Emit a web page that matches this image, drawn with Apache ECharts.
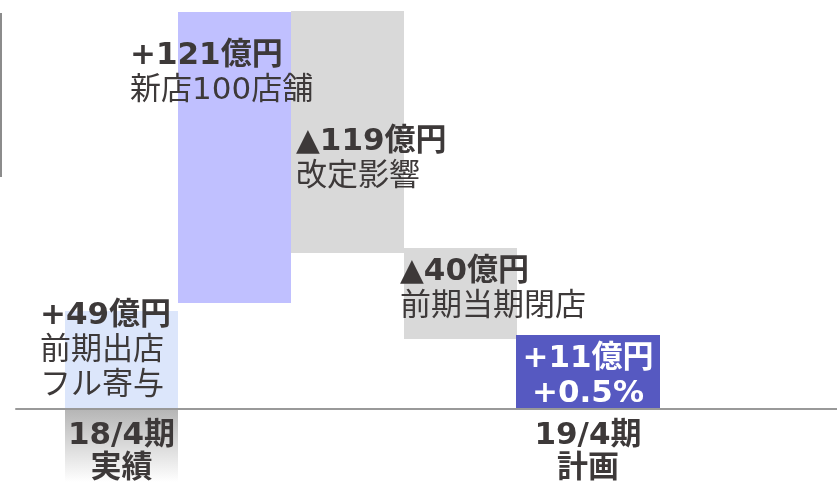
<!DOCTYPE html>
<html>
<head>
<meta charset="utf-8">
<script src="https://cdn.jsdelivr.net/npm/echarts@6/dist/echarts.min.js"></script>
<style>
  html, body { margin: 0; padding: 0; background: #fff; }
  #main { width: 837px; height: 482px; }
</style>
</head>
<body>
<div id="main"></div>
<script>
// 売上増減の要因（図上の目盛り、基準線 = 0）
var categories = ['18/4期\n実績', '新店', '改定', '閉店', '19/4期\n計画'];
var barLow = [0, 53, 78, 35];
var barHigh = [49, 198.5, 199, 80.5];
var prevTotal = [-36.5];      // 18/4期実績（下は切れている）
var planDiff = [37];          // 19/4期計画の箱
var valueLabels = ['+49億円', '+121億円', '▲119億円', '▲40億円'];
var noteLabels = [['前期出店', 'フル寄与'], ['新店100店舗'], ['改定影響'], ['前期当期閉店']];
var planLabels = ['+11億円', '+0.5%'];

var yMin = 0, yMax = 204.5;
var font = "'DejaVu Sans', 'Noto Sans CJK JP', sans-serif";
var textColor = '#3d3939';
var barColors = ['#dce6fb', '#c0c0ff', '#d9d9d9', '#d9d9d9'];
var labelPos = [[-25, -13], [-48, 26], [5, 113], [-4, 6]];

var chart = echarts.init(document.getElementById('main'));

function pad(arr, n, at) {
  var out = [];
  for (var i = 0; i < n; i++) out.push('-');
  for (var j = 0; j < arr.length; j++) out[at + j] = arr[j];
  return out;
}

var baseData = pad(barLow, 5, 0);
var deltaData = pad(barHigh.map(function (h, i) {
  var txt = '{b|' + valueLabels[i] + '}';
  noteLabels[i].forEach(function (s) { txt += '\n{r|' + s + '}'; });
  return {
    value: h - barLow[i],
    itemStyle: { color: barColors[i] },
    label: {
      show: true,
      position: labelPos[i],
      align: 'left',
      verticalAlign: 'top',
      formatter: txt
    }
  };
}), 5, 0);

var hiddenY = function (idx) {
  return { type: 'value', gridIndex: idx, min: yMin, max: yMax, show: false };
};

var catLabel = {
  color: textColor,
  fontFamily: font,
  fontSize: 31,
  fontWeight: 'bold',
  lineHeight: 33,
  margin: 10
};

var noLine = { show: false, onZero: false };
var gridBase = { top: 0, bottom: 73, outerBoundsMode: 'none', containLabel: false };

var option = {
  animation: false,
  grid: [
    Object.assign({ left: 65, width: 565 }, gridBase),
    Object.assign({ left: 79.5, width: 565 }, gridBase),
    Object.assign({ left: 16, right: 0 }, gridBase)
  ],
  xAxis: [
    {
      type: 'category', gridIndex: 0, data: categories, z: 10,
      axisLine: noLine, axisTick: { show: false }, splitLine: { show: false },
      axisLabel: Object.assign({ interval: function (i) { return i === 0; } }, catLabel)
    },
    {
      type: 'category', gridIndex: 1, data: categories, z: 10,
      axisLine: noLine, axisTick: { show: false }, splitLine: { show: false },
      axisLabel: Object.assign({ interval: function (i) { return i === 4; } }, catLabel)
    },
    {
      type: 'category', gridIndex: 2, data: [''], z: 5,
      axisLine: { show: true, onZero: false, lineStyle: { color: '#999999', width: 2 } },
      axisTick: { show: false }, axisLabel: { show: false }, splitLine: { show: false }
    }
  ],
  yAxis: [hiddenY(0), hiddenY(1), hiddenY(2)],
  graphic: [{
    type: 'line',
    shape: { x1: 1, y1: 13, x2: 1, y2: 177 },
    style: { stroke: '#8c8c8c', lineWidth: 2 }
  }],
  series: [
    {
      name: '18/4期実績',
      type: 'bar', stack: 'w', barCategoryGap: '0%', clip: false,
      xAxisIndex: 0, yAxisIndex: 0,
      data: pad(prevTotal, 5, 0),
      itemStyle: {
        color: new echarts.graphic.LinearGradient(0, 0, 0, 1, [
          { offset: 0, color: '#b5b5b5' },
          { offset: 1, color: '#ffffff' }
        ])
      },
      emphasis: { disabled: true }
    },
    {
      name: 'base',
      type: 'bar', stack: 'w', barCategoryGap: '0%',
      xAxisIndex: 0, yAxisIndex: 0,
      data: baseData,
      itemStyle: { color: 'transparent' },
      emphasis: { disabled: true }
    },
    {
      name: '増減',
      type: 'bar', stack: 'w', barCategoryGap: '0%',
      xAxisIndex: 0, yAxisIndex: 0,
      data: deltaData,
      label: {
        rich: {
          b: { fontFamily: font, fontSize: 31, fontWeight: 'bold', lineHeight: 35, color: textColor },
          r: { fontFamily: font, fontSize: 31, lineHeight: 35, color: textColor }
        }
      },
      emphasis: { disabled: true }
    },
    {
      name: '19/4期計画',
      type: 'bar', barWidth: 144, clip: false,
      xAxisIndex: 1, yAxisIndex: 1,
      data: pad(planDiff, 5, 4),
      itemStyle: { color: '#5659c1' },
      label: {
        show: true,
        position: [72, 6],
        align: 'center',
        verticalAlign: 'top',
        formatter: planLabels.join('\n'),
        color: '#ffffff',
        fontFamily: font,
        fontSize: 31,
        fontWeight: 'bold',
        lineHeight: 35
      },
      emphasis: { disabled: true }
    }
  ]
};

chart.setOption(option);
</script>
</body>
</html>
